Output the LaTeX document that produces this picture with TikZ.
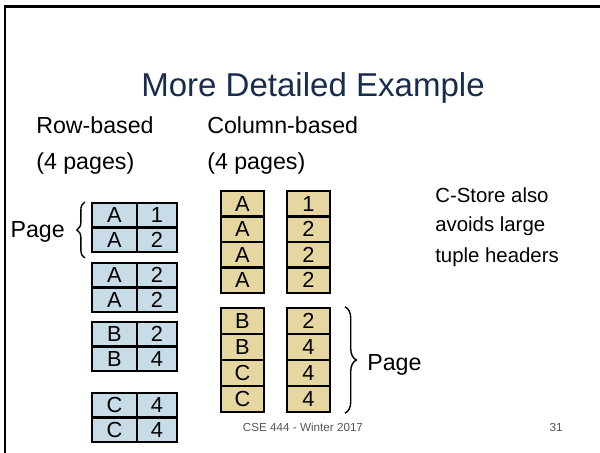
\documentclass[tikz,border=0pt]{standalone}
\usepackage{fontspec}
\setmainfont{Liberation Sans}
\usepackage{tikz}
\usetikzlibrary{decorations.pathreplacing}
\definecolor{rowblue}{RGB}{199,220,231}
\definecolor{coltan}{RGB}{230,214,160}
\definecolor{titlenavy}{RGB}{24,44,78}
\definecolor{footgray}{RGB}{85,85,85}

\begin{document}
\begin{tikzpicture}[x=0.025cm,y=-0.025cm,
  cell/.style={draw,line width=1.6pt,inner sep=0pt,font=\fontsize{15.5}{18}\selectfont},
  rowcell/.style={cell,fill=rowblue,minimum height=0.6125cm},
  colcell/.style={cell,fill=coltan,minimum width=1.075cm},
  label/.style={anchor=base west,inner sep=0pt,font=\fontsize{16.5}{20}\selectfont},
  note/.style={anchor=base west,inner sep=0pt,font=\fontsize{14.5}{18}\selectfont},
  foot/.style={anchor=base,inner sep=0pt,text=footgray,font=\fontsize{8.3}{10}\selectfont},
  pagebrace/.style={decorate,line width=1pt}]
\useasboundingbox (0,0) rectangle (600,453);
\draw[line width=1.6pt,line join=miter] (5,453) -- (5,6.5) -- (600,6.5);
\node[anchor=base,inner sep=0pt,text=titlenavy,font=\fontsize{23.5}{28}\selectfont] (title) at (313,97) {More Detailed Example};
% headings
\node[label] (rowhead) at (36,134) {Row-based};
\node[label] (rowpages) at (36,170) {(4 pages)};
\node[label] (colhead) at (207,134) {Column-based};
\node[label] (colpages) at (207,170) {(4 pages)};
% row-based pages
\node[rowcell,minimum width=1.125cm] (r1a) at (114.5,215.25) {A};
\node[rowcell,minimum width=1cm] (r1b) at (157,215.25) {1};
\node[rowcell,minimum width=1.125cm] (r2a) at (114.5,239.75) {A};
\node[rowcell,minimum width=1cm] (r2b) at (157,239.75) {2};
\node[rowcell,minimum width=1.125cm] (r3a) at (114.5,275.25) {A};
\node[rowcell,minimum width=1cm] (r3b) at (157,275.25) {2};
\node[rowcell,minimum width=1.125cm] (r4a) at (114.5,299.75) {A};
\node[rowcell,minimum width=1cm] (r4b) at (157,299.75) {2};
\node[rowcell,minimum width=1.125cm] (r5a) at (114.5,334.25) {B};
\node[rowcell,minimum width=1cm] (r5b) at (157,334.25) {2};
\node[rowcell,minimum width=1.125cm] (r6a) at (114.5,358.75) {B};
\node[rowcell,minimum width=1cm] (r6b) at (157,358.75) {4};
\node[rowcell,minimum width=1.125cm] (r7a) at (114.5,405.25) {C};
\node[rowcell,minimum width=1cm] (r7b) at (157,405.25) {4};
\node[rowcell,minimum width=1.125cm] (r8a) at (114.5,429.75) {C};
\node[rowcell,minimum width=1cm] (r8b) at (157,429.75) {4};
% column-based pages
\node[colcell,minimum height=0.6375cm] (c1a) at (242.5,203.75) {A};
\node[colcell,minimum height=0.6375cm] (c2a) at (242.5,229.25) {A};
\node[colcell,minimum height=0.6375cm] (c3a) at (242.5,254.75) {A};
\node[colcell,minimum height=0.6375cm] (c4a) at (242.5,280.25) {A};
\node[colcell,minimum height=0.6375cm] (c1b) at (308.5,203.75) {1};
\node[colcell,minimum height=0.6375cm] (c2b) at (308.5,229.25) {2};
\node[colcell,minimum height=0.6375cm] (c3b) at (308.5,254.75) {2};
\node[colcell,minimum height=0.6375cm] (c4b) at (308.5,280.25) {2};
\node[colcell,minimum height=0.65cm] (c5a) at (242.5,321) {B};
\node[colcell,minimum height=0.65cm] (c6a) at (242.5,347) {B};
\node[colcell,minimum height=0.65cm] (c7a) at (242.5,373) {C};
\node[colcell,minimum height=0.65cm] (c8a) at (242.5,399) {C};
\node[colcell,minimum height=0.65cm] (c5b) at (308.5,321) {2};
\node[colcell,minimum height=0.65cm] (c6b) at (308.5,347) {4};
\node[colcell,minimum height=0.65cm] (c7b) at (308.5,373) {4};
\node[colcell,minimum height=0.65cm] (c8b) at (308.5,399) {4};
% braces
\draw[pagebrace,decoration={brace,amplitude=0.2cm}]
  ([xshift=-0.15cm,yshift=-0.12cm]r2a.south west) -- ([xshift=-0.15cm]r1a.north west);
\node[label,anchor=base east] (rowpage) at (65,237) {Page};
\draw[pagebrace,decoration={brace,amplitude=0.28cm}]
  ([xshift=0.35cm]c5b.north east) -- ([xshift=0.35cm]c8b.south east);
\node[label] (colpage) at (367,370) {Page};
% side note
\node[note] (note1) at (435,202) {C-Store also};
\node[note] (note2) at (435,232) {avoids large};
\node[note] (note3) at (435,262) {tuple headers};
% footer
\node[foot] (course) at (303,431) {CSE 444 - Winter 2017};
\node[foot] (slideno) at (556,431) {31};
\end{tikzpicture}
\end{document}
